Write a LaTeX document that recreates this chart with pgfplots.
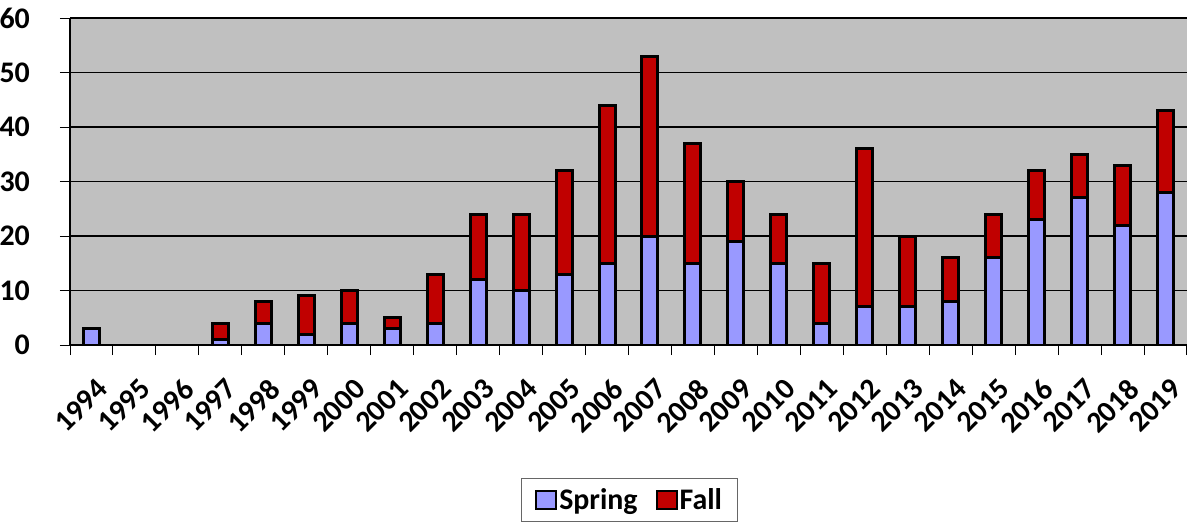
\documentclass[border=0pt]{standalone}
\usepackage{fontspec}
\setmainfont{Carlito}
\usepackage{pgfplots}
\pgfplotsset{compat=1.18}
\definecolor{spring}{RGB}{153,153,255}
\definecolor{fall}{RGB}{192,0,0}
\definecolor{bg}{RGB}{192,192,192}
\begin{document}
\begin{tikzpicture}
\begin{axis}[
  scale only axis, width=1117bp, height=327bp,
  ybar stacked, bar width=16bp,
  xmin=-0.5, xmax=25.5, ymin=0, ymax=60,
  xtick={0,...,25},
  xticklabels={1994,1995,1996,1997,1998,1999,2000,2001,2002,2003,2004,2005,2006,2007,2008,2009,2010,2011,2012,2013,2014,2015,2016,2017,2018,2019},
  major x tick style={draw=none},
  minor xtick={-0.5,0.5,...,25.5},
  ytick={0,10,...,60},
  ymajorgrids, grid style={black, line width=1.2pt},
  tick align=outside, major tick length=10bp, minor tick length=10bp,
  tick style={black, line width=1pt},
  axis x line*=bottom, axis y line*=left,
  axis line style={black, line width=1.2pt},
  axis background/.style={fill=bg},
  /pgf/number format/assume math mode=true,
  ticklabel style={font=\bfseries\fontsize{30}{30}\selectfont},
  y tick label style={inner xsep=0pt, xshift=-30bp},
  x tick label style={xshift=4bp, yshift=-22bp, rotate=45, anchor=north east, inner sep=0pt},
  legend style={at={(0.501,-0.407)}, anchor=north, legend columns=2, draw=black!60, line width=1pt,
    font=\bfseries\fontsize{30}{30}\selectfont, inner xsep=14bp, inner ysep=8bp,
    nodes={inner xsep=2bp},
    /tikz/every even column/.append style={column sep=16bp}},
  legend image code/.code={\draw[#1, line width=2pt] (0bp,-9bp) rectangle (20bp,9bp);},
]
\addplot[fill=spring, draw=black, line width=3bp] coordinates {
(0,3) (1,0) (2,0) (3,1) (4,4) (5,2) (6,4) (7,3) (8,4) (9,12) (10,10) (11,13) (12,15)
(13,20) (14,15) (15,19) (16,15) (17,4) (18,7) (19,7) (20,8) (21,16) (22,23) (23,27) (24,22) (25,28)};
\addplot[fill=fall, draw=black, line width=3bp] coordinates {
(0,0) (1,0) (2,0) (3,3) (4,4) (5,7) (6,6) (7,2) (8,9) (9,12) (10,14) (11,19) (12,29)
(13,33) (14,22) (15,11) (16,9) (17,11) (18,29) (19,13) (20,8) (21,8) (22,9) (23,8) (24,11) (25,15)};
\legend{Spring,Fall}
\end{axis}
\pgfresetboundingbox
\path (current axis.south west) ++(-70bp,-184bp) rectangle ++(1192bp,529bp);
\end{tikzpicture}
\end{document}
